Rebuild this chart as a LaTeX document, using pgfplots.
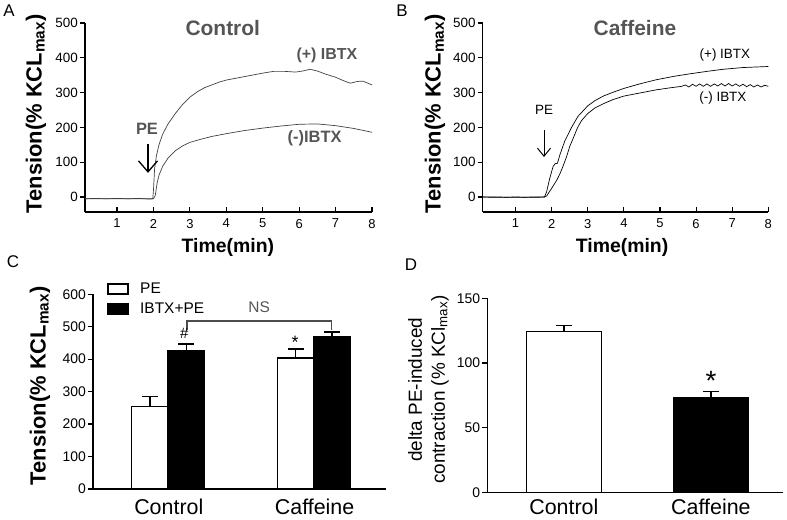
\documentclass[border=0pt]{standalone}
\usepackage{pgfplots}
\pgfplotsset{compat=1.18}
\usetikzlibrary{arrows.meta}
\usepackage{fontspec}
\setmainfont{Liberation Sans}
\newcommand\fsz[2]{\fontsize{#1}{#2}\selectfont}
\definecolor{tgray}{HTML}{555555}
\pgfplotsset{
 gp/.style={
  scale only axis,
  anchor=south west,
  axis x line*=bottom, axis y line*=left,
  axis line style={line width=1.2pt, -},
  tick align=outside,
  major tick length=5bp,
  tick style={line width=1.2pt, black},
  tick label style={font=\fsz{13.5}{15}},
  y tick label style={inner sep=2bp},
  /pgf/number format/assume math mode=true,
  clip=false,
 },
 tc/.style={gp, ymin=-43, ymax=500, xmax=8, xtick={1,...,8}, ytick={0,100,...,500},
  xtick align=inside,
  x tick label style={font=\fsz{13}{15}, yshift=-3.5bp},
  xlabel={Time(min)}, ylabel={Tension(\% KCL\textsubscript{max})},
  xlabel style={font=\bfseries\fsz{19.5}{24}, anchor=center},
  ylabel style={font=\bfseries\fsz{22}{26}, anchor=center},
 },
 bc/.style={gp, xmin=0.48, xmax=2.49, xtick={1,2}, xticklabels={Control,Caffeine},
  x tick style={draw=none},
  x tick label style={font=\fsz{21.5}{25}, inner sep=0pt},
  y tick label style={font=\fsz{14}{16}},
 },
 eb/.style={error bars/.cd, y dir=plus, y explicit, error bar style={line width=1.5pt},
  error mark options={rotate=90, line width=1.5pt, mark size=8bp}},
}
\begin{document}
\begin{tikzpicture}[x=1bp,y=1bp]
\useasboundingbox (0,0) rectangle (787,520);
% ---------------- Panel A ----------------
\begin{axis}[tc, at={(85bp,308bp)}, width=287bp, height=189bp, xmin=0.12,
  xlabel style={at={(axis description cs:0.498,-0.19)}},
  ylabel style={at={(axis description cs:-0.171,0.52)}}]
\addplot[black!75, line width=0.7pt] coordinates {
(0.12,-5) (0.4,-4) (0.7,-5) (1.0,-4) (1.3,-5) (1.6,-4) (1.9,-6) (1.98,-5)
(2.0,20) (2.03,80) (2.08,118) (2.15,150) (2.25,180) (2.4,210) (2.6,240)
(2.8,266) (3.0,287) (3.2,302) (3.4,314) (3.6,322) (3.8,330) (4.0,336)
(4.3,342) (4.6,348) (5.0,356) (5.3,361) (5.6,361) (5.9,359) (6.1,362)
(6.3,367) (6.5,362) (6.7,354) (7.0,344) (7.2,335) (7.4,327) (7.6,332)
(7.75,333) (8.0,322)};
\addplot[black!75, line width=0.7pt] coordinates {
(0.12,-5) (0.5,-5) (1.0,-5) (1.5,-5) (2.0,-5)
(2.05,5) (2.1,40) (2.15,62) (2.25,88) (2.4,112) (2.6,133) (2.8,147)
(3.0,157) (3.3,166) (3.6,174) (4.0,182) (4.5,191) (5.0,198) (5.5,204)
(6.0,209) (6.5,210) (7.0,205) (7.5,197) (8.0,186)};
\node[font=\bfseries\fsz{21}{25}, text=tgray] at (axis description cs:0.48,0.973) {Control};
\node[font=\bfseries\fsz{16}{19}, text=tgray] at (axis description cs:0.843,0.83) {(+) IBTX};
\node[font=\bfseries\fsz{16.5}{19}, text=tgray] at (axis description cs:0.80,0.388) {(-)IBTX};
\node[font=\bfseries\fsz{16.5}{19}, text=tgray] at (axis description cs:0.216,0.441) {PE};
\draw[line width=1.3pt, -{Straight Barb[length=11bp,width=19bp]}]
  (axis description cs:0.2195,0.362) -- (axis description cs:0.2195,0.207);
\end{axis}
% ---------------- Panel B ----------------
\begin{axis}[tc, at={(482.7bp,308bp)}, width=285.6bp, height=189bp, xmin=0.09,
  xlabel style={at={(axis description cs:0.488,-0.19)}},
  ylabel style={at={(axis description cs:-0.167,0.52)}}]
\addplot[black, line width=0.7pt] coordinates {
(0.09,0) (0.5,-1) (1.0,0) (1.5,-1) (1.8,0) (1.86,15) (1.95,55) (2.04,88)
(2.1,96) (2.16,97) (2.23,122) (2.36,160) (2.55,200) (2.73,232) (3.0,262)
(3.2,277) (3.43,290) (3.7,301) (4.0,312) (4.4,324) (4.9,337) (5.4,347)
(5.83,354) (6.3,361) (6.75,367) (7.3,372) (8.0,375)};
\addplot[black, line width=0.7pt] coordinates {
(0.09,0) (0.5,0) (1.0,-1) (1.5,0) (1.8,0) (1.86,3) (2.0,25) (2.15,50)
(2.23,67) (2.32,90) (2.41,115) (2.5,145) (2.6,170) (2.72,200) (2.83,220)
(3.0,240) (3.2,256) (3.43,268) (3.7,280) (4.0,290) (4.4,298) (4.9,308)
(5.3,314) (5.6,318) (5.7,322) (5.8,316) (5.9,324) (6.0,318) (6.1,325)
(6.2,318) (6.3,325) (6.4,318) (6.5,325) (6.6,319) (6.7,326) (6.8,319)
(6.9,326) (7.0,319) (7.1,325) (7.2,318) (7.3,324) (7.4,317) (7.5,323)
(7.6,316) (7.7,322) (7.8,316) (7.9,321) (8.0,318)};
\node[font=\bfseries\fsz{21}{25}, text=tgray] at (axis description cs:0.533,0.974) {Caffeine};
\node[font=\fsz{13.5}{16}] at (axis description cs:0.848,0.831) {(+) IBTX};
\node[font=\fsz{13.5}{16}] at (axis description cs:0.841,0.603) {(-) IBTX};
\node[font=\fsz{13.5}{16}] at (axis description cs:0.215,0.54) {PE};
\draw[line width=1pt, -{Straight Barb[length=8bp,width=13bp]}]
  (axis description cs:0.2146,0.434) -- (axis description cs:0.2146,0.291);
\end{axis}
% ---------------- Panel C ----------------
\begin{axis}[bc, at={(93bp,31bp)}, width=293bp, height=194.7bp, ymin=0, ymax=600,
  ytick={0,100,...,600}, x tick label style={yshift=-5bp},
  ylabel={Tension(\% KCL\textsubscript{max})},
  ylabel style={font=\bfseries\fsz{22}{26}, anchor=center, at={(axis description cs:-0.181,0.53)}},
  legend style={at={(axis description cs:0.048,1.07)}, anchor=north west, draw=none, fill=none,
    inner sep=0pt, font=\fsz{15.5}{18}, row sep=4bp, cells={anchor=west}},
  ]
\addlegendimage{legend image code/.code={\draw[fill=white,draw=black,line width=1.5pt] (0bp,-5bp) rectangle (20bp,5bp); \path (30bp,0bp);}}
\addlegendentry{PE}
\addlegendimage{legend image code/.code={\draw[fill=black,draw=black,line width=1.5pt] (0bp,-5bp) rectangle (20bp,5bp); \path (30bp,0bp);}}
\addlegendentry{IBTX+PE}
\addplot[ybar, bar width=0.25, bar shift=0pt, fill=white, draw=black, line width=1.5pt, forget plot, eb]
  coordinates {(0.87,254) +- (0,31) (1.87,403) +- (0,29)};
\addplot[ybar, bar width=0.25, bar shift=0pt, fill=black, draw=black, line width=1.5pt, forget plot, eb]
  coordinates {(1.12,426) +- (0,21) (2.12,470) +- (0,14)};
\draw[black!70, line width=1.2pt] (axis cs:1.125,490) -- (axis cs:1.125,518) -- (axis cs:2.118,518) -- (axis cs:2.118,491);
\node[font=\fsz{15.5}{18}, text=tgray] at (axis cs:1.62,561) {NS};
\node[font=\fsz{15}{18}] at (axis cs:1.106,479) {\#};
\node[font=\fsz{18}{20}] at (axis cs:1.866,452) {*};
\end{axis}
% ---------------- Panel D ----------------
\begin{axis}[bc, at={(487.3bp,27.3bp)}, width=295.7bp, height=194.4bp, ymin=0, ymax=150,
  ytick={0,50,100,150}, x tick label style={yshift=-1.5bp},
  ylabel={delta PE-induced\\contraction (\% KCl\textsubscript{max})},
  ylabel style={font=\fsz{19}{23}, align=center, anchor=center, at={(axis description cs:-0.199,0.53)}},
  ]
\addplot[ybar, bar width=0.51, bar shift=0pt, fill=white, draw=black, line width=1.5pt, eb]
  coordinates {(1,124.5) +- (0,4.4)};
\addplot[ybar, bar width=0.51, bar shift=0pt, fill=black, draw=black, line width=1.5pt, eb]
  coordinates {(2,73.3) +- (0,4.9)};
\node[font=\fsz{28}{30}] at (axis cs:2,86) {*};
\end{axis}
% ---------------- Panel letters ----------------
\node[font=\fsz{17}{20}] at (9,509) {A};
\node[font=\fsz{17}{20}] at (402,509) {B};
\node[font=\fsz{17}{20}] at (13,258) {C};
\node[font=\fsz{17}{20}] at (411,255) {D};
\end{tikzpicture}
\end{document}
